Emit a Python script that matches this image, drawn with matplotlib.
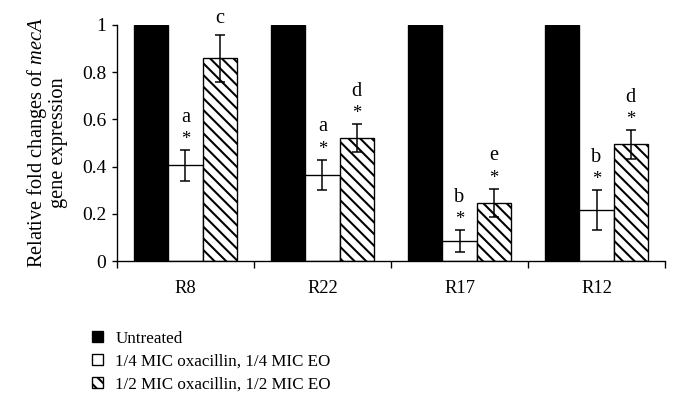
import numpy as np
import matplotlib
matplotlib.use("Agg")
import matplotlib.pyplot as plt

plt.rcParams['font.family'] = ['Liberation Serif', 'DejaVu Serif']
plt.rcParams['mathtext.fontset'] = 'custom'
plt.rcParams['mathtext.it'] = 'Liberation Serif:italic'
plt.rcParams['mathtext.rm'] = 'Liberation Serif'
plt.rcParams['hatch.linewidth'] = 2.1

# data
strains = ['R8', 'R22', 'R17', 'R12']
series = ['Untreated', '1/4 MIC oxacillin, 1/4 MIC EO', '1/2 MIC oxacillin, 1/2 MIC EO']
untreated = [1.0, 1.0, 1.0, 1.0]
quarter = [0.405, 0.365, 0.085, 0.215]
quarter_err = [0.064, 0.063, 0.046, 0.085]
half = [0.858, 0.520, 0.246, 0.494]
half_err = [0.100, 0.060, 0.060, 0.060]
quarter_marks = [('*', 'a'), ('*', 'a'), ('*', 'b'), ('*', 'b')]
half_marks = [('', 'c'), ('*', 'd'), ('*', 'e'), ('*', 'd')]

DPI = 70
fig = plt.figure(figsize=(680 / DPI, 415 / DPI), dpi=DPI)
ax = fig.add_axes([0.172, 0.371, 0.806, 0.569])

x = np.arange(len(strains))
w = 0.25
ekw = dict(ecolor='black', elinewidth=1.55, capsize=5, capthick=1.55)

ax.bar(x - w, untreated, w, color='black', edgecolor='black', linewidth=1.4, label=series[0])
ax.bar(x, quarter, w, yerr=quarter_err, color='white', edgecolor='black', linewidth=1.4,
       error_kw=ekw, label=series[1])
ax.bar(x + w, half, w, yerr=half_err, color='white', edgecolor='black', linewidth=1.4,
       hatch='\\\\', error_kw=ekw, label=series[2])

# significance marks above error bars
for xs, vals, errs, marks in [(x, quarter, quarter_err, quarter_marks),
                              (x + w, half, half_err, half_marks)]:
    for xi, v, e, (star, letter) in zip(xs, vals, errs, marks):
        top = v + e
        if star:
            ax.text(xi, top + 0.045, star, ha='center', va='center', fontsize=19)
            ax.text(xi, top + 0.14, letter, ha='center', va='center', fontsize=21)
        else:
            ax.text(xi, top + 0.07, letter, ha='center', va='center', fontsize=21)

ax.set_xlim(-0.5, len(strains) - 0.5)
ax.set_ylim(0, 1)
ax.set_yticks([0, 0.2, 0.4, 0.6, 0.8, 1.0])
ax.set_yticklabels(['0', '0.2', '0.4', '0.6', '0.8', '1'])
ax.set_xticks(x)
ax.set_xticklabels(strains)
ax.set_xticks(np.arange(-0.5, len(strains)), minor=True)
ax.tick_params(axis='x', which='major', length=0, pad=20, labelsize=19)
ax.tick_params(axis='x', which='minor', length=7, width=1.4, direction='out')
ax.tick_params(axis='y', length=5.5, width=1.4, direction='out', pad=5.5, labelsize=20)

for s in ['top', 'right']:
    ax.spines[s].set_visible(False)
for s in ['left', 'bottom']:
    ax.spines[s].set_linewidth(1.4)

ax.set_ylabel('Relative fold changes of $\\mathit{mecA}$\ngene expression', fontsize=21,
              linespacing=1.0, labelpad=14)

fig.legend(loc='upper left', bbox_to_anchor=(0.136, 0.203), frameon=False, fontsize=17.5,
           handlelength=0.6, handleheight=0.6, handletextpad=0.75, labelspacing=0.4,
           borderaxespad=0, borderpad=0)

fig.savefig('out.png', dpi=DPI)
